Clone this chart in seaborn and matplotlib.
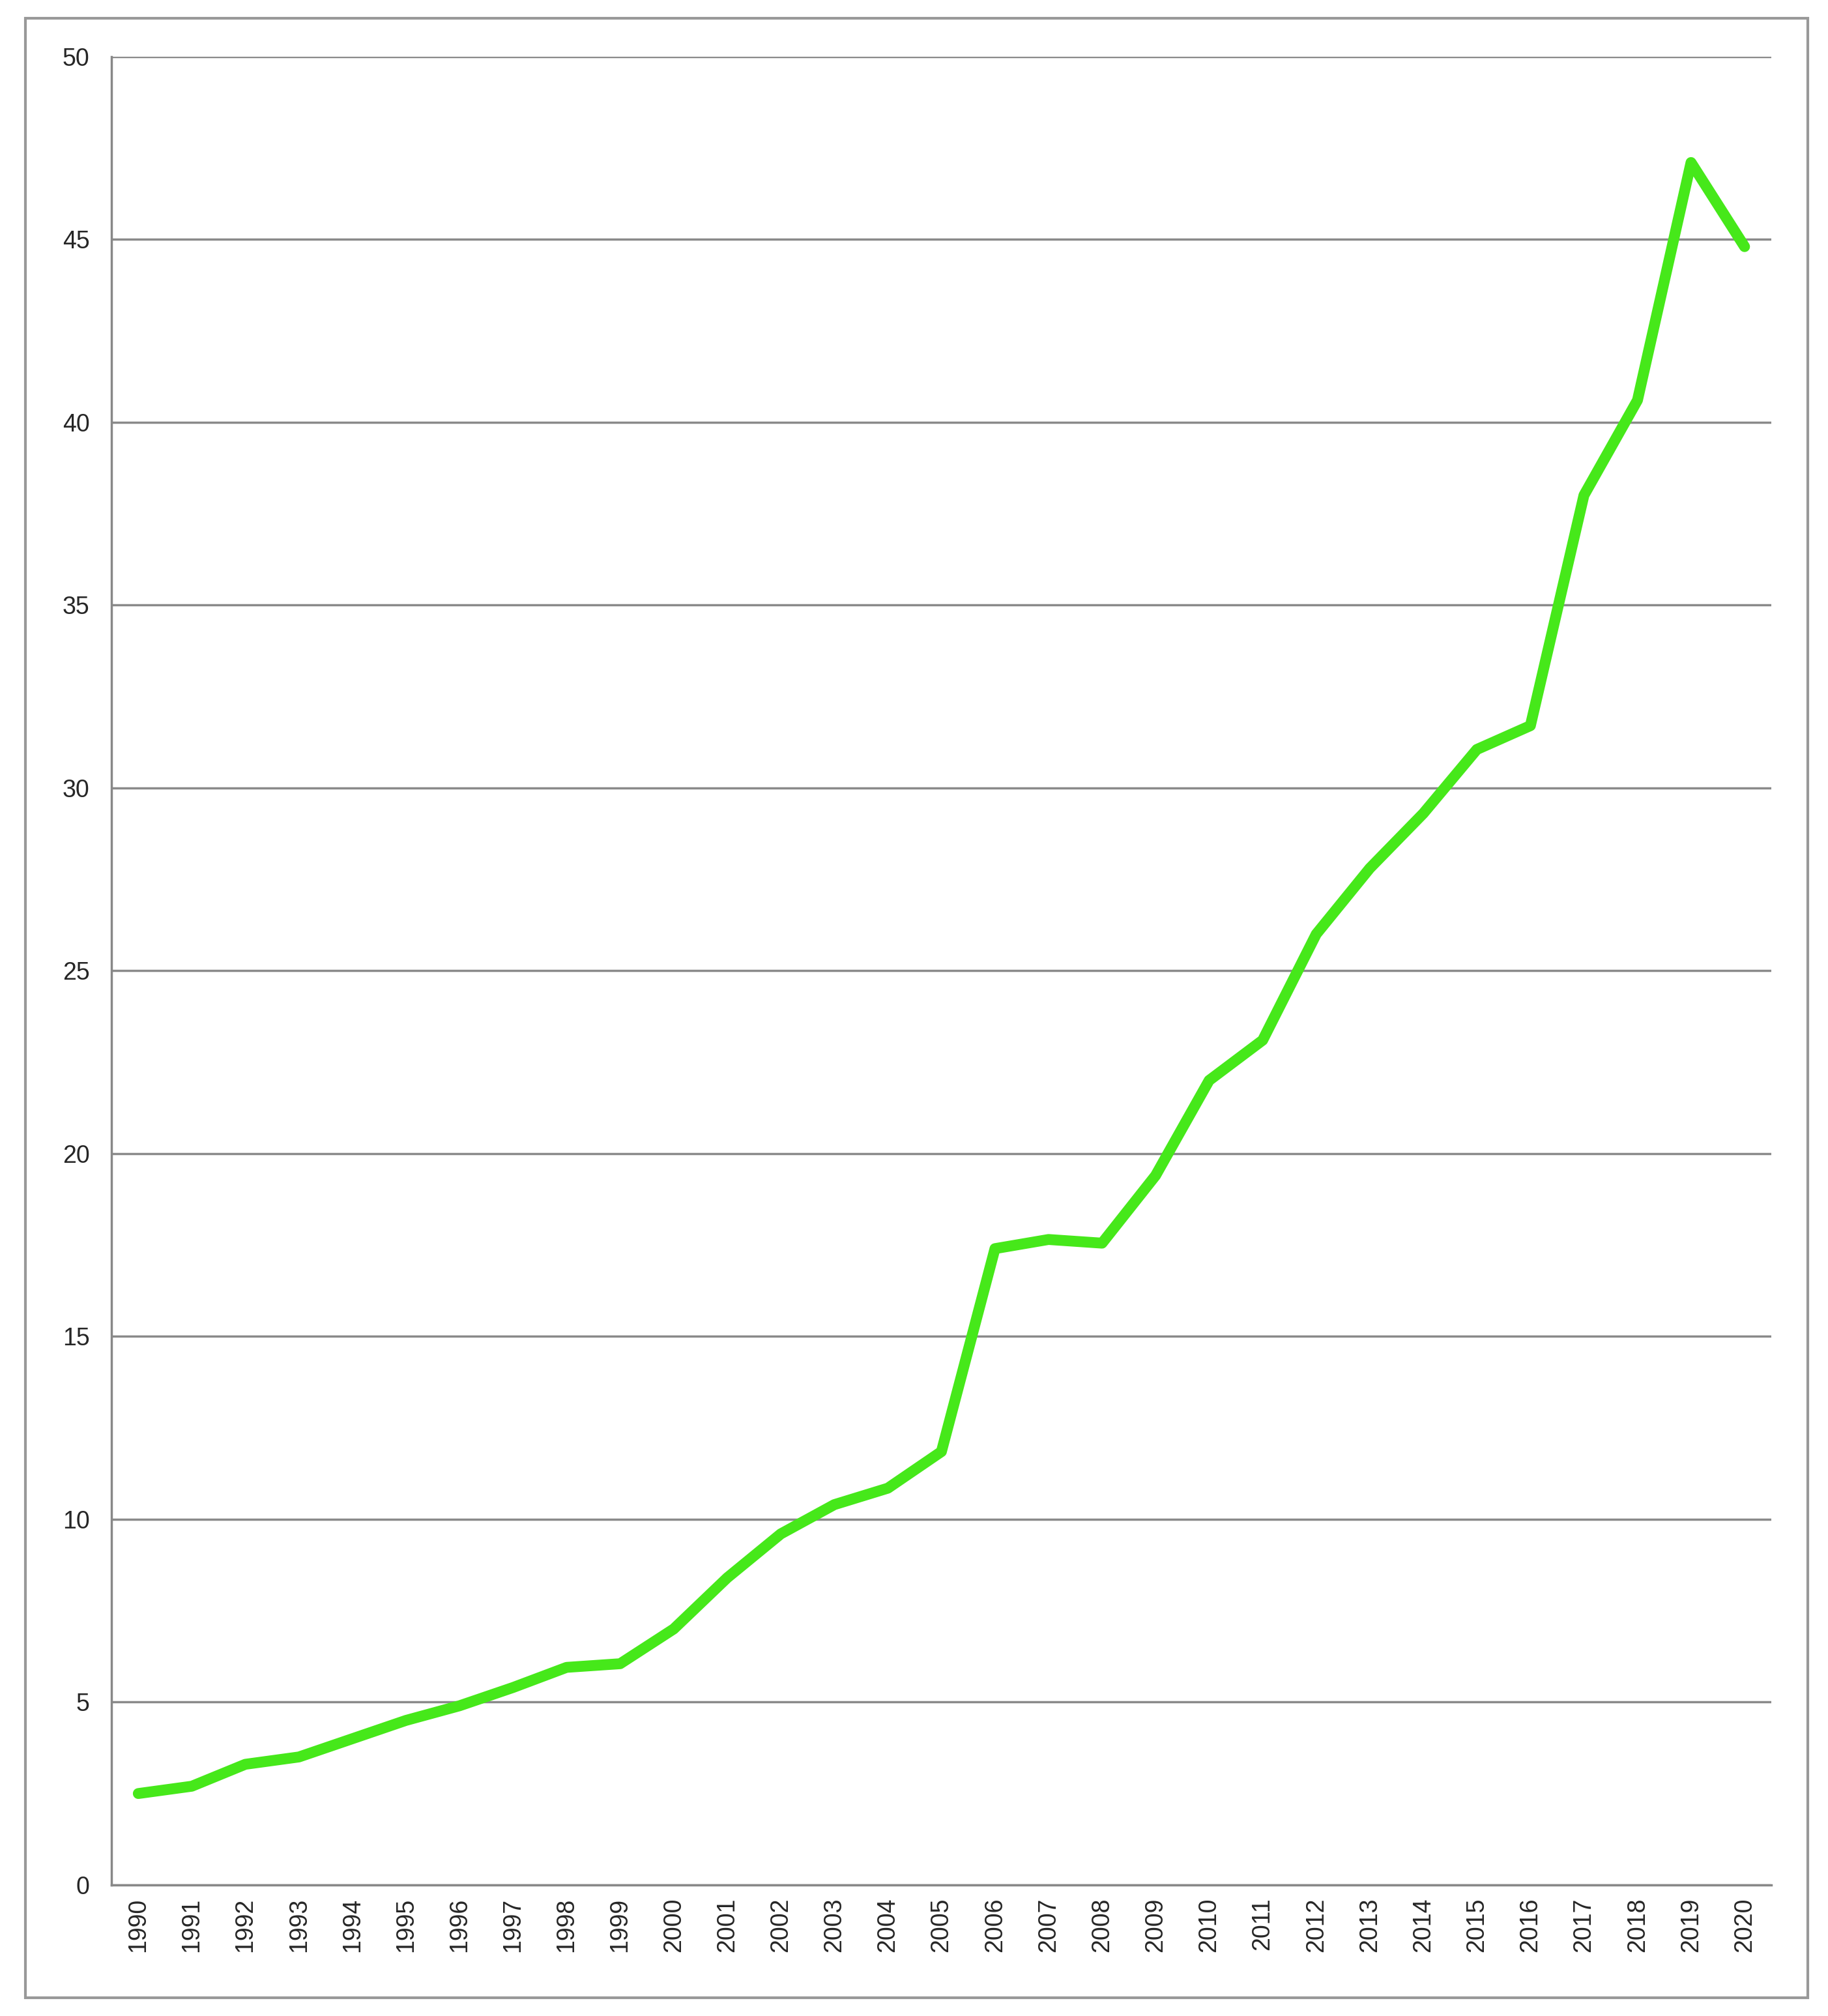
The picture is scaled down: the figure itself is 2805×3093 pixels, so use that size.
import matplotlib
matplotlib.use('Agg')
import matplotlib.pyplot as plt
import seaborn as sns
import pandas as pd
from matplotlib.patches import Rectangle

# values
years = list(range(1990, 2021))
values = [2.5, 2.7, 3.3, 3.5, 4.0, 4.5, 4.9, 5.4, 5.95, 6.05,
          7.0, 8.4, 9.6, 10.4, 10.85, 11.85, 17.4, 17.65, 17.55, 19.4,
          22.0, 23.1, 26.0, 27.8, 29.3, 31.05, 31.7, 38.0, 40.6, 47.1, 44.8]
y_ticks = [0, 5, 10, 15, 20, 25, 30, 35, 40, 45, 50]

df = pd.DataFrame({'pos': range(len(years)), 'value': values})

sns.set_style('white')
plt.rcParams['font.family'] = ['Liberation Sans', 'DejaVu Sans']

fig = plt.figure(figsize=(28.05, 30.93), dpi=100)
ax = fig.add_axes([0.061, 0.065, 0.908, 0.907])

sns.lineplot(data=df, x='pos', y='value', ax=ax, color='#46e81a',
             linewidth=12, solid_capstyle='round')

ax.set_xlim(-0.5, len(years) - 0.5)
ax.set_ylim(0, 50)
ax.set_yticks(y_ticks)
ax.set_yticklabels([str(t) for t in y_ticks], fontsize=27)
ax.set_xticks(range(len(years)))
ax.set_xticklabels([str(y) for y in years], rotation=90, fontsize=27)
ax.set_xticks([i - 0.5 for i in range(len(years) + 1)], minor=True)
ax.tick_params(axis='x', which='major', length=0, pad=14)
ax.tick_params(axis='x', which='minor', length=14, width=2, color='#888888')
ax.tick_params(axis='y', length=12, width=2, color='#888888', pad=12)
ax.set_xlabel('')
ax.set_ylabel('')

ax.yaxis.grid(True, color='#8a8a8a', linewidth=2.5)
ax.set_axisbelow(True)
for s in ['top', 'right']:
    ax.spines[s].set_visible(False)
for s in ['left', 'bottom']:
    ax.spines[s].set_color('#888888')
    ax.spines[s].set_linewidth(2.5)

# outer frame like the reference
fig.patches.append(Rectangle((0.014, 0.009), 0.975, 0.982, transform=fig.transFigure,
                             fill=False, edgecolor='#999999', linewidth=3))

fig.savefig('out.png', dpi=100)
